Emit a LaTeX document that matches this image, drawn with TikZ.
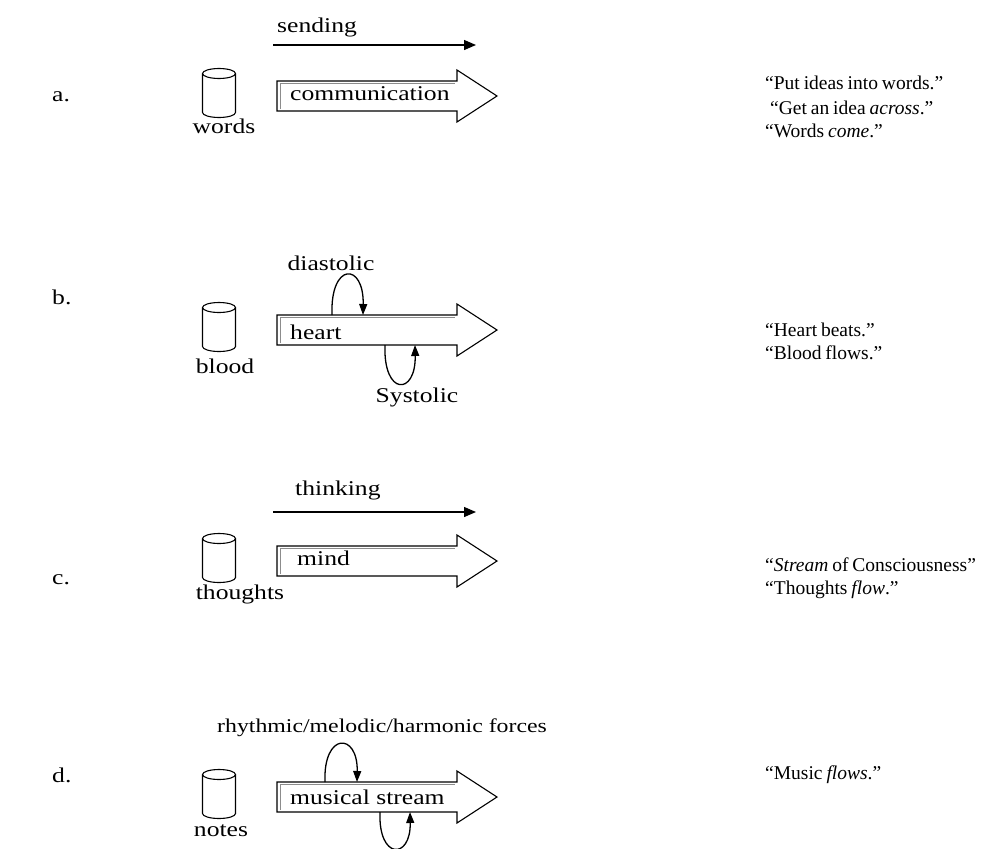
\documentclass[tikz,border=0pt]{standalone}
\usepackage{fontspec}
\setmainfont{Liberation Serif}
\newfontfamily\lblfont{Liberation Serif}[FakeStretch=1.22]
\newcommand\quotefont{\fontsize{19.5}{24}\selectfont\spaceskip=0.2em plus 0.1em\relax}
\usetikzlibrary{arrows.meta,calc}

\tikzset{
  lbl/.style={font=\lblfont\fontsize{21}{24}\selectfont, inner sep=0pt},
  quote/.style={font=\quotefont, inner sep=0pt, anchor=west},
  storeline/.style={line width=1.1pt},
  flowline/.style={draw, line width=1.1pt},
  flowshade/.style={draw=black!45, line width=0.7pt},
  thinarrow/.style={line width=1.3pt, -{Triangle[length=12pt,width=10pt]}},
  loop/.style={line width=1.3pt, -{Triangle[length=11pt,width=8pt]}}
}

\begin{document}
\begin{tikzpicture}[x=1pt,y=-1pt]
\def\xL{277}
\def\xB{457}
\def\xT{497}
\def\hS{15}
\def\hH{26}
\def\cx{219}
\def\rx{16.5}
\def\ry{5}
\useasboundingbox (0,0) rectangle (991,849);

% Row letters
\node[lbl, anchor=west] (la) at (52,97) {a.};
\node[lbl, anchor=west] (lb) at (52,297) {b.};
\node[lbl, anchor=west] (lc) at (52,580) {c.};
\node[lbl, anchor=west] (ld) at (52,775) {d.};

% Big flow arrows and stores
\foreach \n/\yc in {A/96,B/330,C/561,D/797}{
  \draw[flowline] (\xL,\yc-\hS) -- (\xB,\yc-\hS) -- (\xB,\yc-\hH) -- (\xT,\yc)
    -- (\xB,\yc+\hH) -- (\xB,\yc+\hS) -- (\xL,\yc+\hS) -- cycle;
  \draw[flowshade] (\xL+3,\yc+\hS-2) -- (\xL+3,\yc-\hS+2.5) -- (\xB-2,\yc-\hS+2.5);
  % store (cylinder)
  \coordinate (db\n) at (\cx,\yc-3);
  \draw[storeline] ($(db\n)+(0,-19.5)$) ellipse [x radius=\rx, y radius=\ry];
  \draw[storeline] ($(db\n)+(-\rx,-19.5)$) -- ($(db\n)+(-\rx,19.5)$)
    arc[start angle=180, end angle=0, x radius=\rx, y radius=\ry]
    -- ($(db\n)+(\rx,-19.5)$);
}

% Store labels
\node[lbl] (words) at (224,126) {words};
\node[lbl] (blood) at (225,366) {blood};
\node[lbl] (thoughts) at (240,594) {thoughts};
\node[lbl] (notes) at (221,831) {notes};

% Texts in the arrows
\node[lbl, anchor=west] (comm) at (290,94) {communication};
\node[lbl, anchor=west] (heart) at (290,332) {heart};
\node[lbl, anchor=west] (mind) at (297,558) {mind};
\node[lbl, anchor=west] (stream) at (290,797) {musical stream};

% Straight arrows
\node[lbl, anchor=west] (sending) at (277,27) {sending};
\coordinate (sendS) at (273,45);
\coordinate (sendE) at (476,45);
\draw[thinarrow] (sendS) -- (sendE);

\node[lbl, anchor=west] (thinking) at (295,490) {thinking};
\coordinate (thinkS) at (273,512);
\coordinate (thinkE) at (476,512);
\draw[thinarrow] (thinkS) -- (thinkE);

% Loops on the heart
\node[lbl] (diast) at (331,263) {diastolic};
\coordinate (diS) at (332,315);
\coordinate (diE) at (363,315);
\draw[loop] (diS) .. controls (330,262) and (364,262) .. (diE);

\node[lbl] (syst) at (417,397) {Systolic};
\coordinate (syS) at (385,345);
\coordinate (syE) at (415,345);
\draw[loop] (syS) .. controls (383,396) and (416,396) .. (syE);

% Loops on the musical stream
\node[lbl, anchor=west, font=\lblfont\fontsize{19.5}{24}\selectfont] (forces) at (217,728) {rhythmic/melodic/harmonic forces};
\coordinate (muS) at (325,782);
\coordinate (muE) at (357,782);
\draw[loop] (muS) .. controls (323,732) and (358,732) .. (muE);
\coordinate (mlS) at (380,812);
\coordinate (mlE) at (410,812);
\draw[loop] (mlS) .. controls (378,860) and (411,860) .. (mlE);

% Quotes
\node[quote] (qa1) at (765,83) {“Put ideas into words.”};
\node[quote] (qa2) at (770,108) {“Get an idea \textit{across}.”};
\node[quote] (qa3) at (765,131) {“Words \textit{come}.”};
\node[quote] (qb1) at (765,330) {“Heart beats.”};
\node[quote] (qb2) at (765,353) {“Blood flows.”};
\node[quote] (qc1) at (765,565) {“\textit{Stream} of Consciousness”};
\node[quote] (qc2) at (765,590) {“Thoughts \textit{flow}.”};
\node[quote] (qd1) at (765,775) {“Music \textit{flows}.”};
\end{tikzpicture}
\end{document}
